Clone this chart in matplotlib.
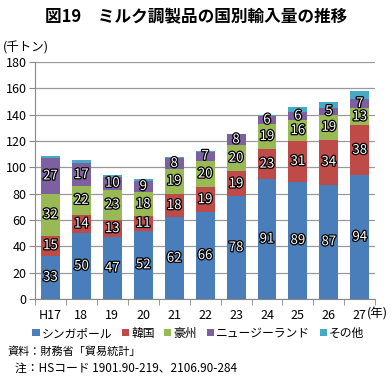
import numpy as np
import matplotlib.pyplot as plt
import matplotlib.patheffects as pe

plt.rcParams['font.family'] = ['Noto Sans CJK JP', 'DejaVu Sans']

years = ['H17', '18', '19', '20', '21', '22', '23', '24', '25', '26', '27']
singapore = [33, 50, 47, 52, 62, 66, 78, 91, 89, 87, 94]
korea = [15, 14, 13, 11, 18, 19, 19, 23, 31, 34, 38]
australia = [32, 22, 23, 18, 19, 20, 20, 19, 16, 19, 13]
nz = [27, 17, 10, 9, 8, 7, 8, 6, 6, 5, 7]
other = [1.5, 2.5, 1.5, 1, 1, 0.8, 0.6, 1, 4, 5, 6]

names = ['シンガポール', '韓国', '豪州', 'ニュージーランド', 'その他']
colors = ['#4A7EBB', '#BE4B48', '#98B954', '#7D60A0', '#46AAC5']
series = [singapore, korea, australia, nz, other]

fig = plt.figure(figsize=(3.92, 3.76), dpi=100)
ax = fig.add_axes([0.0893, 0.2048, 0.868, 0.630])

x = np.arange(len(years))
bottom = np.zeros(len(years))
stroke = [pe.withStroke(linewidth=1.8, foreground='black')]
for i, (vals, name, col) in enumerate(zip(series, names, colors)):
    vals = np.array(vals, dtype=float)
    ax.bar(x, vals, 0.61, bottom=bottom, color=col, label=name, zorder=3)
    if i < 4:
        for xi, b, v in zip(x, bottom, vals):
            ax.text(xi, b + v / 2, '%d' % v, ha='center', va='center',
                    fontsize=9.5, color='white', path_effects=stroke, zorder=4)
    bottom += vals

ax.set_ylim(0, 180)
ax.set_yticks(range(0, 181, 20))
ax.set_xlim(-0.5, len(years) - 0.5)
ax.set_xticks(x)
ax.set_xticklabels(years)
ax.set_xticks(np.arange(-0.5, len(years), 1), minor=True)
ax.tick_params(axis='x', which='major', length=0, pad=7, labelsize=9)
ax.tick_params(axis='x', which='minor', length=4, color='#888888')
ax.tick_params(axis='y', length=4, color='#888888', labelsize=9, pad=2)
ax.grid(axis='y', color='#999999', linewidth=0.9, zorder=0)
for s in ['top', 'right']:
    ax.spines[s].set_visible(False)
for s in ['left', 'bottom']:
    ax.spines[s].set_color('#888888')

# 年 unit next to the last tick label
ax.text(10.22, -0.064, '(年)', transform=ax.get_xaxis_transform(), fontsize=9,
        ha='left', va='center')

fig.text(0.5, 0.953, '図19　ミルク調製品の国別輸入量の推移', ha='center', va='center',
         fontsize=12, fontweight='bold')
fig.text(0.007, 0.872, '(千トン)', ha='left', va='center', fontsize=9)

fig.legend(loc='center', bbox_to_anchor=(0.506, 0.114), ncol=5, frameon=False,
           fontsize=8.5, handlelength=0.6, handleheight=0.6, handletextpad=0.2,
           columnspacing=0.8, borderpad=0)

fig.text(0.02, 0.064, '資料：財務省「貿易統計」', ha='left', va='center', fontsize=8)
fig.text(0.038, 0.021, '注：HSコード 1901.90-219、2106.90-284', ha='left', va='center', fontsize=8.5)

fig.savefig('out.png', dpi=100)
